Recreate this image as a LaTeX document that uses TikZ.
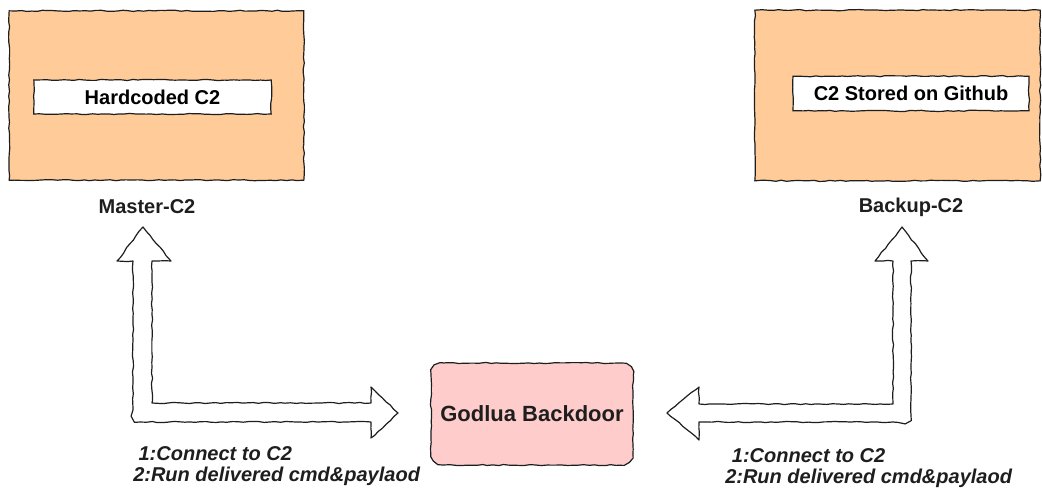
\documentclass[tikz,border=0pt]{standalone}
\usepackage{fontspec}
\setmainfont{Liberation Sans}
\usepackage{xcolor}
\usetikzlibrary{positioning, decorations.pathmorphing}

\definecolor{c2orange}{HTML}{FFCC99}
\definecolor{doorpink}{HTML}{FFCCCC}
\definecolor{inkgray}{HTML}{1E1E1E}

\tikzset{
  sketch/.style={decorate, decoration={random steps, segment length=4pt, amplitude=0.45pt}},
  serverbox/.style={sketch, draw=inkgray, line width=0.9pt, fill=c2orange},
  addrbox/.style={sketch, draw=inkgray, line width=0.9pt, fill=white,
    font=\bfseries\fontsize{15}{17}\selectfont},
  doorbox/.style={sketch, draw=inkgray, line width=0.9pt, fill=doorpink},
  doortext/.style={font=\bfseries\fontsize{16.5}{19}\selectfont, text=inkgray},
  title/.style={font=\bfseries\fontsize{15}{17}\selectfont, text=inkgray},
  steps/.style={font=\bfseries\itshape\fontsize{15}{15.75}\selectfont, text=inkgray, align=left},
  blockarrow/.style={sketch, draw=inkgray, line width=0.9pt, fill=white, line join=round}
}

\begin{document}
\pgfmathsetseed{11}
\begin{tikzpicture}[x=0.75pt, y=-0.75pt]
\useasboundingbox (0,0) rectangle (1042,489);
% Master side
\node[serverbox, minimum width=221pt, minimum height=127pt] (master) at (156.5,95.5) {};
\node[addrbox, minimum width=178pt, minimum height=25.5pt] (hard) at (152.5,97) {Hardcoded C2};
\node[title] (masterlbl) at (147,207) {Master-C2};
% Backup side
\node[serverbox, minimum width=214pt, minimum height=128pt] (backup) at (897.5,95.5) {};
\node[addrbox, minimum width=177pt, minimum height=26pt] (github) at (911,93.5) {C2 Stored on Github};
\node[title] (backuplbl) at (911,207) {Backup-C2};
% Backdoor
\draw[doorbox] (443,363) -- (621,363) arc[start angle=270, end angle=360, radius=12]
  -- (633,453) arc[start angle=0, end angle=90, radius=12]
  -- (443,465) arc[start angle=90, end angle=180, radius=12]
  -- (431,375) arc[start angle=180, end angle=270, radius=12] -- cycle;
\node[doortext] (godlua) at (532,414) {Godlua Backdoor};
% Left arrow
\draw[blockarrow] (143,227) -- (171,261) -- (152,261) -- (152,403) -- (371,403)
  -- (371,387) -- (398,413) -- (371,438) -- (371,422)
  -- (140,422) arc[start angle=90, end angle=180, radius=7]
  -- (133,261) -- (117,261) -- cycle;
% Right arrow
\draw[blockarrow] (902,227) -- (928,261) -- (911,261)
  -- (911,415) arc[start angle=0, end angle=90, radius=7] -- (699,422)
  -- (699,440) -- (667,413) -- (699,387) -- (699,404) -- (893,404) -- (893,261) -- (875,261) -- cycle;
% Step texts
\node[steps, anchor=north west, inner sep=0pt] (leftsteps) at (133,446) {\hspace{4pt}1:Connect to C2\\2:Run delivered cmd\&paylaod};
\node[steps, anchor=north west, inner sep=0pt] (rightsteps) at (725,448) {\hspace{5pt}1:Connect to C2\\2:Run delivered cmd\&paylaod};
\end{tikzpicture}
\end{document}
